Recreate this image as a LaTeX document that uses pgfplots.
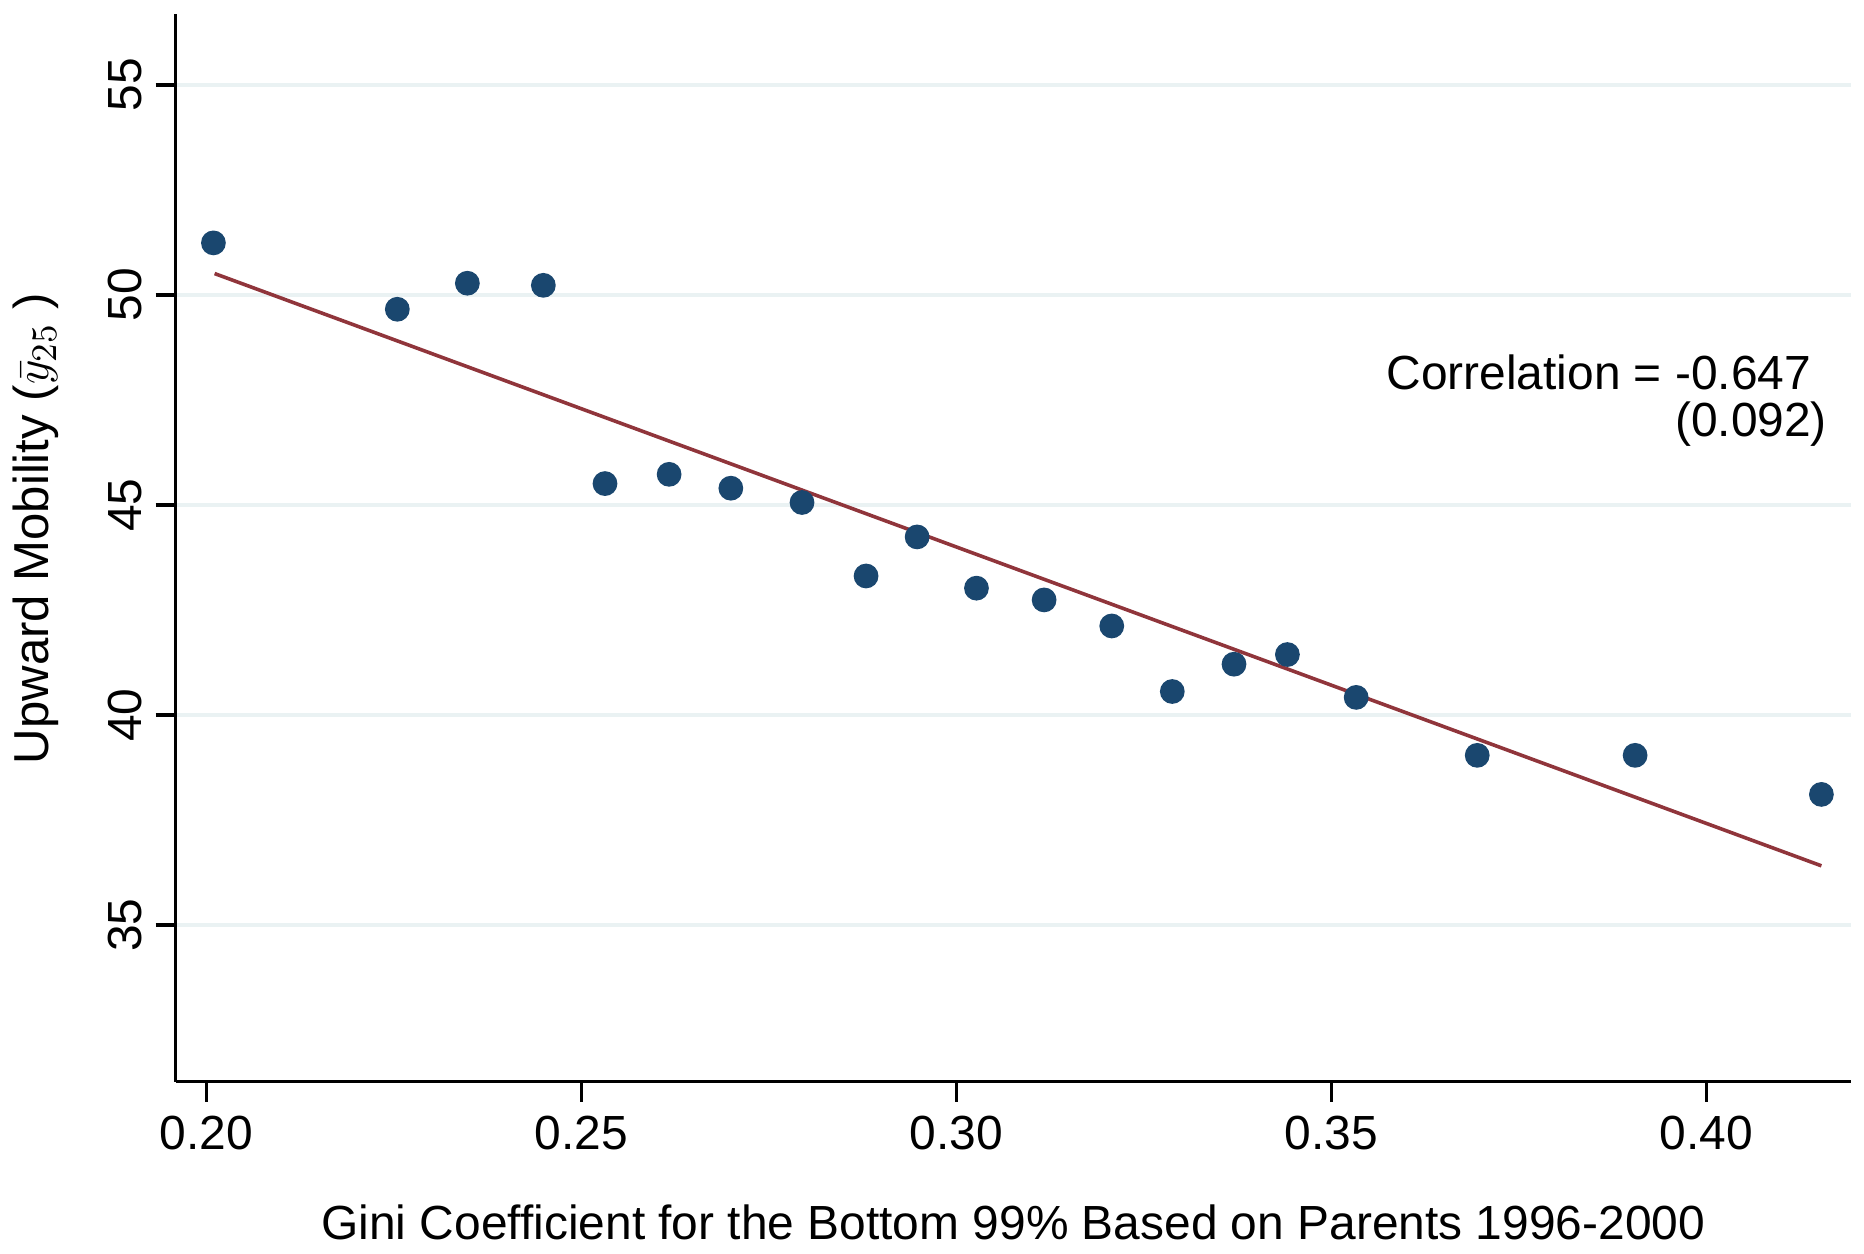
\documentclass[border=0pt]{standalone}
\usepackage{fontspec}
\setmainfont{Liberation Sans}
\usepackage{pgfplots}
\pgfplotsset{compat=1.18}
\definecolor{stnavy}{HTML}{1A476F}
\definecolor{stmaroon}{HTML}{90353B}
\definecolor{stgrid}{HTML}{EAF2F3}
\begin{document}
\begin{tikzpicture}
\begin{axis}[
  at={(0,0)}, anchor=south west,
  scale only axis,
  width=419.75pt, height=267.5pt,
  xmin=0.1959, xmax=0.4193,
  ymin=31.27, ymax=56.69,
  axis x line*=bottom, axis y line*=left,
  axis line style={line width=0.8pt, black, -},
  tick align=outside,
  major tick length=5pt,
  tick style={line width=0.8pt, black},
  xtick={0.20,0.25,0.30,0.35,0.40},
  ytick={35,40,45,50,55},
  xticklabel style={/pgf/number format/.cd, fixed, fixed zerofill, precision=2},
  yticklabel style={rotate=90, anchor=south},
  /pgf/number format/assume math mode=true,
  ymajorgrids,
  major grid style={stgrid, line width=1pt},
  tick label style={font=\fontsize{12}{14}\selectfont},
  label style={font=\fontsize{12}{14}\selectfont},
  xlabel={Gini Coefficient for the Bottom 99\% Based on Parents 1996-2000},
  ylabel={Upward Mobility ($\bar{y}_{25}$ )},
  xlabel style={at={(axis description cs:0.5,-0.1477)}, anchor=base},
  ylabel style={at={(axis description cs:-0.0756,0.518)}, anchor=base, rotate=0, font=\fontsize{12.3}{14}\selectfont},
  clip=false,
]
\addplot[only marks, mark=*, mark size=2.9pt, draw=stnavy, fill=stnavy] coordinates {
(0.20095,51.24) (0.22547,49.66) (0.23481,50.28) (0.24494,50.23)
(0.25316,45.51) (0.26171,45.73) (0.26994,45.40) (0.27943,45.06)
(0.28797,43.31) (0.29478,44.24) (0.30269,43.02) (0.31171,42.74)
(0.32073,42.12) (0.32880,40.56) (0.33703,41.21) (0.34415,41.44)
(0.35332,40.42) (0.36946,39.04) (0.39051,39.04) (0.41535,38.11)
};
\addplot[stmaroon, line width=0.9pt] coordinates {(0.20111,50.51) (0.41535,36.41)};
\node[anchor=base east, font=\fontsize{12}{14}\selectfont] at (rel axis cs:0.9846,0.6486) {Correlation = -0.647};
\node[anchor=base east, font=\fontsize{12}{14}\selectfont] at (rel axis cs:0.9940,0.6042) {(0.092)};
\end{axis}
\path[use as bounding box] (-43pt,-42.5pt) rectangle (423pt,271pt);
\end{tikzpicture}
\end{document}
